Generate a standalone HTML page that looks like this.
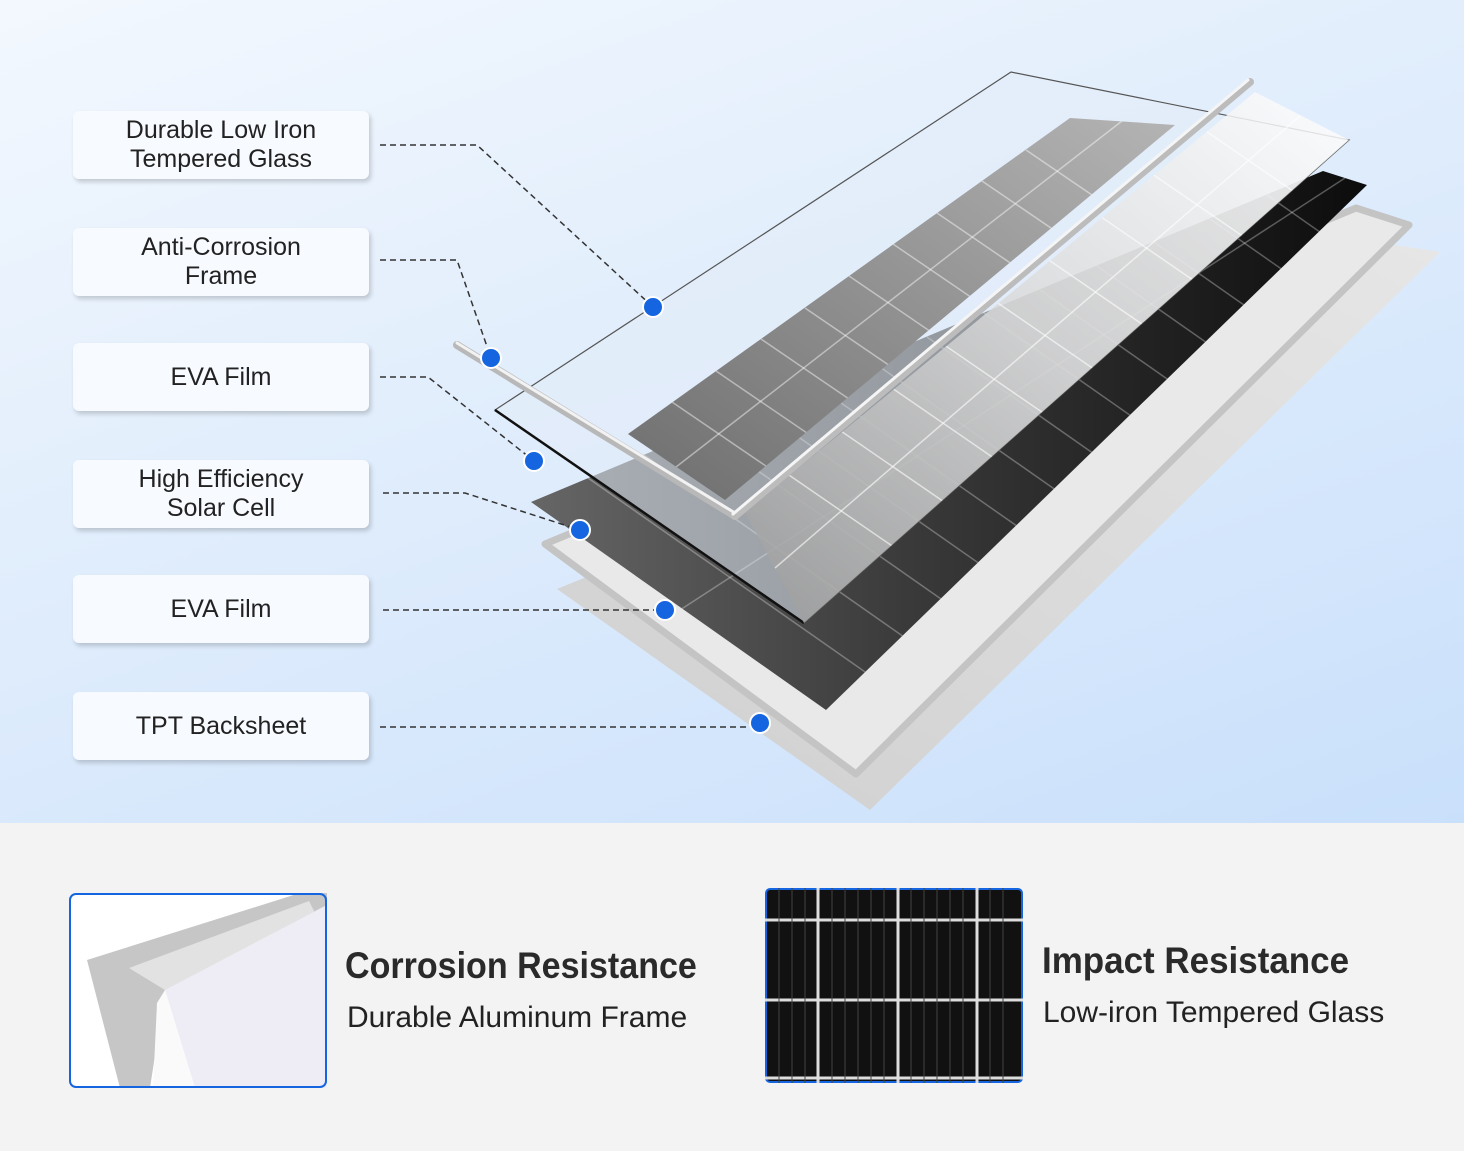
<!DOCTYPE html>
<html><head><meta charset="utf-8"><style>
body{margin:0;width:1464px;height:1151px;overflow:hidden;font-family:"Liberation Sans",sans-serif;background:#f3f3f3}
.top{position:absolute;left:0;top:0;width:1464px;height:823px;background:linear-gradient(160deg,#f3f8fe 0%,#e2eefc 40%,#c9e0fb 100%)}
.lab{position:absolute;left:73px;width:296px;height:68px;background:#f7faff;border-radius:6px;box-shadow:2px 3px 5px rgba(0,0,0,.18);display:flex;align-items:center;justify-content:center;text-align:center;font-size:25px;line-height:29px;color:#222}
.t1{position:absolute;font-weight:bold;font-size:37px;color:#2a2a2a;transform-origin:0 0;white-space:nowrap}
.t2{position:absolute;font-size:30px;color:#222;white-space:nowrap}
</style></head><body>
<div class="top"></div>
<svg style="position:absolute;left:0;top:0" width="1464" height="823">
<defs>
<linearGradient id="back" x1="0" y1="1" x2="1" y2="0"><stop offset="0" stop-color="#cfcfcf"/><stop offset="1" stop-color="#e6e6e6"/></linearGradient>
<linearGradient id="dark" x1="0" y1="0" x2="1" y2="0"><stop offset="0" stop-color="#666"/><stop offset=".45" stop-color="#3a3a3a"/><stop offset="1" stop-color="#0c0c0c"/></linearGradient>
<linearGradient id="cellA" x1="0" y1="1" x2="1" y2="0"><stop offset="0" stop-color="#6e6e6e"/><stop offset="1" stop-color="#b4b4b4"/></linearGradient>
<linearGradient id="gloss" x1="0" y1="1" x2="1" y2="0"><stop offset="0" stop-color="#9a9a9a"/><stop offset=".5" stop-color="#d8d8d8"/><stop offset="1" stop-color="#ffffff"/></linearGradient>
<clipPath id="cA"><polygon points="628,434 1070,118 1175,125 725,500"/></clipPath>
<clipPath id="cB"><polygon points="745,512 1255,92 1349,140 804,623"/></clipPath>
<clipPath id="cD"><polygon points="531,502 1323,171 1367,185 826,710"/></clipPath>
</defs>
<polygon points="557,589 1395,245 1440,252 870,810" fill="url(#back)"/>
<polygon points="545,544 1356,208 1409,225 856,774" fill="#e9e9e9" stroke="#c4c4c4" stroke-width="7" stroke-linejoin="round"/>
<polygon points="531,502 1323,171 1367,185 826,710" fill="url(#dark)"/>
<g clip-path="url(#cD)" stroke="#fff" stroke-opacity=".3" stroke-width="1.5">
<line x1="588" y1="478" x2="888" y2="688"/><line x1="644" y1="455" x2="944" y2="665"/><line x1="701" y1="431" x2="1001" y2="641"/><line x1="757" y1="408" x2="1057" y2="618"/><line x1="814" y1="384" x2="1114" y2="594"/><line x1="870" y1="360" x2="1170" y2="570"/><line x1="927" y1="337" x2="1227" y2="547"/><line x1="984" y1="313" x2="1284" y2="523"/><line x1="1040" y1="290" x2="1340" y2="500"/><line x1="1097" y1="266" x2="1397" y2="476"/><line x1="1154" y1="242" x2="1454" y2="452"/><line x1="1210" y1="219" x2="1510" y2="429"/><line x1="1267" y1="195" x2="1567" y2="405"/>
<line x1="680" y1="610" x2="1345" y2="178"/>
</g>
<polygon points="495,410 1011,72 1349,140 804,623" fill="#e4edf7" fill-opacity=".55" stroke="#555" stroke-width="1.2"/>
<line x1="495" y1="410" x2="804" y2="623" stroke="#111" stroke-width="2.5"/>
<polygon points="628,434 1070,118 1175,125 725,500" fill="url(#cellA)"/>
<g clip-path="url(#cA)" stroke="#fff" stroke-opacity=".45" stroke-width="1.5">
<line x1="672" y1="402" x2="782" y2="477"/><line x1="716" y1="371" x2="826" y2="446"/><line x1="761" y1="339" x2="871" y2="414"/><line x1="805" y1="308" x2="915" y2="383"/><line x1="849" y1="276" x2="959" y2="351"/><line x1="893" y1="244" x2="1003" y2="319"/><line x1="937" y1="213" x2="1047" y2="288"/><line x1="982" y1="181" x2="1092" y2="256"/><line x1="1026" y1="150" x2="1136" y2="225"/>
<line x1="676" y1="467" x2="1122" y2="121"/>
</g>
<polygon points="745,512 1255,92 1349,140 804,623" fill="url(#gloss)" fill-opacity=".85"/>
<g clip-path="url(#cB)" stroke="#fff" stroke-opacity=".6" stroke-width="1.5">
<line x1="786" y1="473" x2="946" y2="583"/><line x1="838" y1="429" x2="998" y2="539"/><line x1="889" y1="386" x2="1049" y2="496"/><line x1="940" y1="342" x2="1100" y2="452"/><line x1="992" y1="299" x2="1152" y2="409"/><line x1="1043" y1="256" x2="1203" y2="366"/><line x1="1094" y1="212" x2="1254" y2="322"/><line x1="1145" y1="169" x2="1305" y2="279"/><line x1="1197" y1="125" x2="1357" y2="235"/>
<line x1="775" y1="568" x2="1300" y2="116"/>
</g>
<g stroke-linecap="round">
<line x1="457" y1="345" x2="735" y2="516" stroke="#b8b8b8" stroke-width="8"/>
<line x1="457" y1="343" x2="735" y2="513" stroke="#f2f2f2" stroke-width="3"/>
<line x1="735" y1="516" x2="1250" y2="82" stroke="#bcbcbc" stroke-width="8"/>
<line x1="733" y1="514" x2="1248" y2="80" stroke="#f5f5f5" stroke-width="3"/>
</g>
<g fill="none" stroke="#333" stroke-width="1.5" stroke-dasharray="6,4">
<polyline points="380,145 477,145 653,307"/>
<polyline points="380,260 457,260 491,358"/>
<polyline points="380,377 428,377 534,461"/>
<polyline points="383,493 465,493 580,530"/>
<polyline points="383,610 665,610"/>
<polyline points="380,727 760,727"/>
</g>
<g fill="#1565e0" stroke="#fff" stroke-width="2">
<circle cx="653" cy="307" r="10"/><circle cx="491" cy="358" r="10"/><circle cx="534" cy="461" r="10"/>
<circle cx="580" cy="530" r="10"/><circle cx="665" cy="610" r="10"/><circle cx="760" cy="723" r="10"/>
</g>
</svg>
<div class="lab" style="top:111px">Durable Low Iron<br>Tempered Glass</div>
<div class="lab" style="top:228px">Anti-Corrosion<br>Frame</div>
<div class="lab" style="top:343px">EVA Film</div>
<div class="lab" style="top:460px">High Efficiency<br>Solar Cell</div>
<div class="lab" style="top:575px">EVA Film</div>
<div class="lab" style="top:692px">TPT Backsheet</div>

<svg style="position:absolute;left:69px;top:893px" width="258" height="195">
<rect x="1" y="1" width="256" height="193" rx="6" fill="#fff"/>
<polygon points="18,67 231,0 258,0 258,12 96,97 81,195 51,195" fill="#c6c6c6"/>
<polygon points="60,75 240,8 246,20 96,97" fill="#e2e2e2"/>
<polygon points="96,97 258,12 258,195 126,195" fill="#eeedf6"/>
<polygon points="88,110 96,97 126,195 84,195" fill="#fafafa"/>
<rect x="1" y="1" width="256" height="193" rx="6" fill="none" stroke="#1565e0" stroke-width="2"/>
</svg>
<svg style="position:absolute;left:765px;top:888px" width="258" height="195">
<rect x="1" y="1" width="256" height="193" rx="4" fill="#111" stroke="#1565e0" stroke-width="2"/>
<g stroke="#ddd" stroke-width="3"><line x1="53" y1="0" x2="53" y2="195"/><line x1="133" y1="0" x2="133" y2="195"/><line x1="212" y1="0" x2="212" y2="195"/><line x1="0" y1="32" x2="258" y2="32"/><line x1="0" y1="112" x2="258" y2="112"/><line x1="0" y1="190" x2="258" y2="190"/></g>
<g stroke="#444" stroke-width="1"><line x1="14" y1="0" x2="14" y2="195"/><line x1="27" y1="0" x2="27" y2="195"/><line x1="40" y1="0" x2="40" y2="195"/><line x1="67" y1="0" x2="67" y2="195"/><line x1="80" y1="0" x2="80" y2="195"/><line x1="93" y1="0" x2="93" y2="195"/><line x1="106" y1="0" x2="106" y2="195"/><line x1="119" y1="0" x2="119" y2="195"/><line x1="146" y1="0" x2="146" y2="195"/><line x1="159" y1="0" x2="159" y2="195"/><line x1="172" y1="0" x2="172" y2="195"/><line x1="185" y1="0" x2="185" y2="195"/><line x1="198" y1="0" x2="198" y2="195"/><line x1="225" y1="0" x2="225" y2="195"/><line x1="238" y1="0" x2="238" y2="195"/></g>
</svg>
<div class="t1" style="left:345px;top:945px;transform:scaleX(.92)">Corrosion Resistance</div>
<div class="t2" style="left:347px;top:1001px">Durable Aluminum Frame</div>
<div class="t1" style="left:1042px;top:940px;transform:scaleX(.945)">Impact Resistance</div>
<div class="t2" style="left:1043px;top:996px">Low-iron Tempered Glass</div>
</body></html>
